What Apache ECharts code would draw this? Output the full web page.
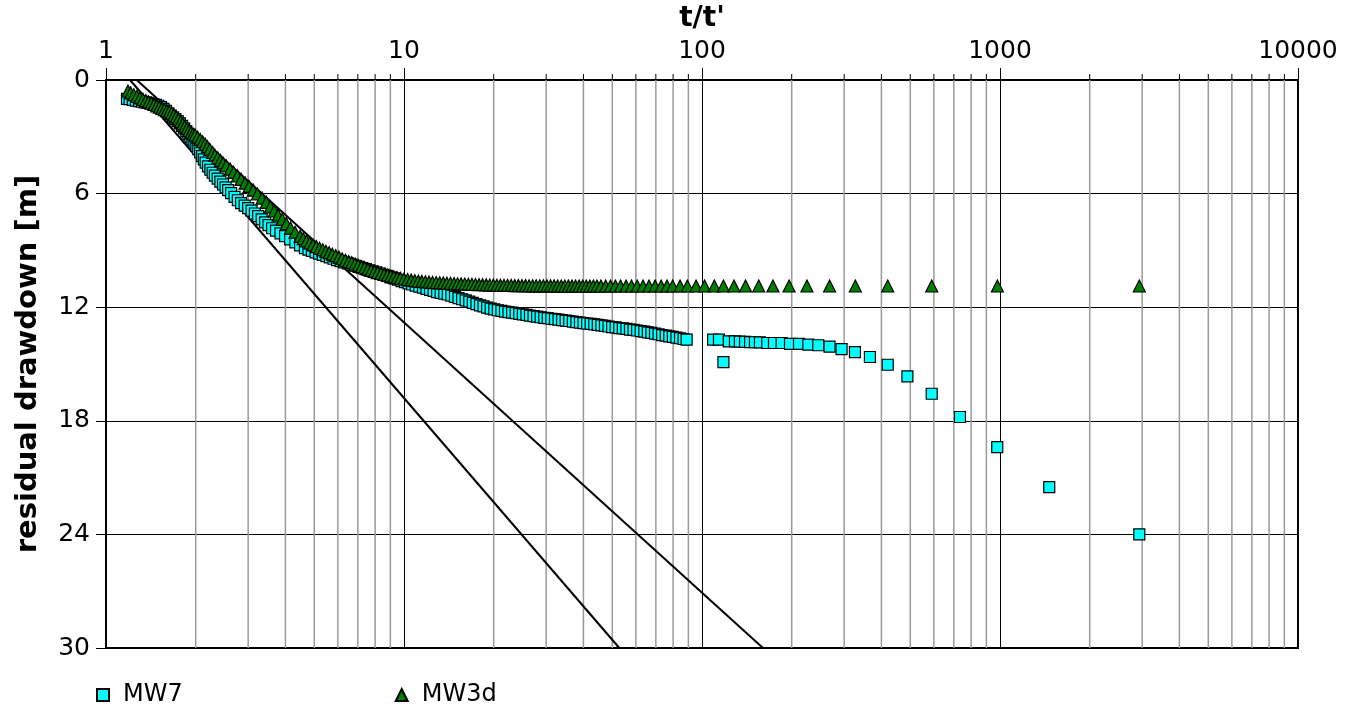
<!DOCTYPE html>
<html>
<head>
<meta charset="utf-8">
<title>Residual drawdown</title>
<script src="https://cdn.jsdelivr.net/npm/echarts@6/dist/echarts.min.js"></script>
<style>
  html, body { margin: 0; padding: 0; background: #fff; }
  #chart { width: 1358px; height: 709px; }
</style>
</head>
<body>
<div id="chart"></div>
<script>
// [t/t', residual drawdown m]
var mw7 = [
  [1.176,1.00],[1.20,1.01],[1.23,1.05],[1.26,1.09],[1.29,1.12],[1.32,1.15],[1.35,1.18],[1.38,1.21],
  [1.41,1.24],[1.44,1.27],[1.47,1.31],[1.50,1.36],[1.53,1.43],[1.56,1.52],[1.59,1.63],[1.62,1.76],
  [1.65,1.88],[1.68,1.97],[1.71,2.06],[1.74,2.17],[1.77,2.29],[1.80,2.42],[1.83,2.56],[1.86,2.71],
  [1.89,2.86],[1.92,3.01],[1.95,3.15],[1.98,3.31],[2.01,3.48],[2.04,3.65],[2.07,3.83],[2.10,4.02],
  [2.13,4.19],[2.16,4.36],[2.20,4.56],[2.24,4.74],[2.28,4.90],[2.32,5.05],[2.37,5.21],[2.42,5.37],
  [2.47,5.52],[2.52,5.67],[2.57,5.82],[2.63,5.98],[2.70,6.17],[2.77,6.35],[2.84,6.50],[2.92,6.64],
  [3.00,6.77],[3.08,6.90],[3.16,7.05],[3.24,7.19],[3.33,7.36],[3.42,7.52],[3.51,7.67],[3.61,7.83],
  [3.72,7.96],[3.85,8.10],[3.99,8.25],[4.15,8.42],[4.32,8.58],[4.48,8.73],[4.65,8.88],[4.78,8.96],
  [4.91,9.03],[5.05,9.10],[5.19,9.17],[5.34,9.24],[5.49,9.30],[5.64,9.37],[5.80,9.44],[5.96,9.51],
  [6.13,9.57],[6.30,9.63],[6.48,9.69],[6.66,9.75],[6.85,9.81],[7.04,9.87],[7.24,9.93],[7.44,9.99],
  [7.65,10.05],[7.86,10.11],[8.08,10.16],[8.31,10.22],[8.54,10.29],[8.78,10.35],[9.03,10.42],[9.28,10.48],
  [9.54,10.55],[9.81,10.62],[10.08,10.68],[10.36,10.74],[10.65,10.80],[10.95,10.86],[11.26,10.91],[11.58,10.97],
  [11.90,11.03],[12.23,11.09],[12.57,11.14],[12.92,11.20],[13.28,11.24],[13.65,11.28],[14.03,11.33],[14.42,11.39],
  [14.83,11.45],[15.24,11.52],[15.67,11.58],[16.11,11.64],[16.56,11.71],[17.02,11.77],[17.50,11.84],[17.99,11.90],
  [18.49,11.96],[19.01,12.02],[19.54,12.07],[20.09,12.12],[20.65,12.16],[21.23,12.19],[21.82,12.23],[22.43,12.26],
  [23.06,12.29],[23.70,12.32],[24.37,12.35],[25.05,12.38],[25.75,12.41],[26.47,12.44],[27.21,12.47],[27.97,12.50],
  [28.75,12.53],[29.56,12.56],[30.38,12.58],[31.23,12.61],[32.11,12.63],[33.01,12.66],[33.93,12.68],[34.88,12.71],
  [35.85,12.73],[36.86,12.76],[37.89,12.79],[38.95,12.81],[40.04,12.84],[41.16,12.86],[42.31,12.88],[43.49,12.91],
  [44.71,12.93],[45.96,12.96],[47.25,12.99],[48.57,13.02],[49.93,13.05],[51.33,13.07],[52.77,13.10],[54.24,13.12],
  [55.76,13.15],[57.32,13.18],[58.93,13.20],[60.58,13.23],[62.28,13.26],[64.02,13.29],[65.81,13.33],[67.66,13.36],
  [69.55,13.40],[71.50,13.43],[73.50,13.47],[75.56,13.50],[77.67,13.54],[79.85,13.57],[82.08,13.61],[84.38,13.64],
  [86.74,13.68],[88.80,13.71],
  [109,13.71],[114,13.71],[118,14.90],[123,13.80],[129,13.81],[134,13.82],[139.5,13.83],[145,13.84],
  [150.6,13.85],[156.5,13.86],[165.6,13.89],[174.4,13.89],[185,13.89],[197.4,13.94],[211.6,13.94],[227.4,13.98],
  [245.6,14.01],[268,14.08],[294,14.21],[326,14.37],[366,14.63],[420,15.04],[489,15.65],[590,16.57],
  [734,17.80],[979,19.39],[1463,21.50],[2934,24.00]
];

var mw3d = [
  [1.185,0.58],[1.21,0.68],[1.24,0.78],[1.27,0.86],[1.30,0.94],[1.33,1.02],[1.36,1.09],[1.39,1.16],
  [1.42,1.22],[1.45,1.29],[1.48,1.37],[1.51,1.44],[1.54,1.50],[1.57,1.56],[1.60,1.62],[1.63,1.68],
  [1.66,1.76],[1.69,1.85],[1.72,1.95],[1.75,2.07],[1.78,2.20],[1.81,2.32],[1.84,2.44],[1.87,2.56],
  [1.90,2.67],[1.93,2.77],[1.96,2.85],[1.99,2.91],[2.03,3.02],[2.07,3.14],[2.11,3.26],[2.15,3.38],
  [2.19,3.52],[2.23,3.66],[2.28,3.83],[2.32,3.97],[2.37,4.11],[2.42,4.25],[2.47,4.38],[2.53,4.53],
  [2.61,4.71],[2.68,4.88],[2.76,5.06],[2.84,5.25],[2.93,5.45],[3.02,5.62],[3.12,5.82],[3.22,6.02],
  [3.34,6.24],[3.45,6.46],[3.56,6.70],[3.67,6.92],[3.78,7.14],[3.90,7.36],[4.03,7.59],[4.16,7.82],
  [4.31,8.04],[4.48,8.26],[4.59,8.38],[4.71,8.50],[4.83,8.61],[4.95,8.71],[5.08,8.80],[5.21,8.89],
  [5.34,8.97],[5.47,9.05],[5.61,9.12],[5.75,9.20],[5.90,9.28],[6.05,9.36],[6.20,9.44],[6.36,9.52],
  [6.52,9.59],[6.68,9.65],[6.85,9.72],[7.02,9.79],[7.20,9.86],[7.38,9.92],[7.57,9.99],[7.76,10.05],
  [7.96,10.11],[8.16,10.17],[8.37,10.22],[8.58,10.27],[8.80,10.31],[9.02,10.36],[9.25,10.40],[9.48,10.44],
  [9.72,10.47],[10.00,10.51],[10.28,10.54],[10.57,10.57],[10.87,10.60],[11.17,10.62],[11.48,10.64],[11.80,10.66],
  [12.13,10.67],[12.47,10.69],[12.82,10.70],[13.18,10.71],[13.55,10.72],[13.93,10.73],[14.32,10.74],[14.72,10.75],
  [15.13,10.76],[15.55,10.77],[15.99,10.78],[16.44,10.79],[16.90,10.79],[17.37,10.80],[17.86,10.81],[18.36,10.81],
  [18.87,10.82],[19.40,10.83],[19.94,10.83],[20.50,10.84],[21.07,10.84],[21.66,10.85],[22.27,10.85],[22.89,10.85],
  [23.53,10.86],[24.19,10.86],[24.87,10.86],[25.57,10.86],[26.28,10.87],[27.02,10.87],[27.77,10.87],[28.55,10.87],
  [29.35,10.87],[30.17,10.87],[31.02,10.87],[31.89,10.87],[32.78,10.88],[33.70,10.88],[34.64,10.88],[35.61,10.88],
  [36.61,10.88],[37.63,10.88],[38.69,10.88],[39.77,10.88],[40.88,10.88],[42.03,10.88],[43.21,10.88],[44.42,10.88],
  [45.80,10.88],[47.50,10.88],[49.30,10.88],[51.20,10.88],[53.30,10.88],[55.60,10.88],[58.00,10.88],[60.60,10.88],
  [63.40,10.88],[66.40,10.88],[69.60,10.88],[72.90,10.88],[76.30,10.88],[79.70,10.88],
  [84.4,10.88],[89.3,10.88],[95.5,10.88],[102,10.88],[110,10.88],[118,10.88],[128,10.88],[140,10.88],
  [155,10.88],[173,10.88],[196,10.88],[225,10.88],[268,10.88],[327,10.88],[420,10.88],[590,10.88],
  [980,10.88],[2934,10.88]
];

// straight-line fits, ends at the top and bottom of the plot
var fitLine1 = [[1.204, 0], [52.8, 30]];
var fitLine2 = [[1.268, 0], [160.2, 30]];

// minor log grid values
var minorTicks = [2,3,4,5,6,7,8,9, 20,30,40,50,60,70,80,90,
  200,300,400,500,600,700,800,900, 2000,3000,4000,5000,6000,7000,8000,9000];

var font = 'DejaVu Sans';
var chart = echarts.init(document.getElementById('chart'));

var option = {
  backgroundColor: '#fff',
  animation: false,
  grid: {
    left: 106, right: 60, top: 80, bottom: 61,
    containLabel: false, outerBoundsMode: 'none',
    show: true, borderColor: '#000', borderWidth: 2, backgroundColor: 'transparent'
  },
  legend: {
    left: 91, top: 678,
    itemWidth: 12, itemHeight: 12, itemGap: 212,
    textStyle: { fontSize: 24, color: '#000', fontFamily: font, padding: [0, 0, 0, 9] },
    data: [
      { name: 'MW7', icon: 'rect' },
      { name: 'MW3d', icon: 'triangle' }
    ]
  },
  xAxis: {
    type: 'log', logBase: 10, min: 1, max: 10000, position: 'top',
    name: "t/t'", nameLocation: 'middle', nameGap: 47,
    nameTextStyle: { fontSize: 28, fontWeight: 'bold', color: '#000', fontFamily: font },
    axisLine: { show: true, lineStyle: { color: '#000', width: 2 } },
    axisTick: { show: true, length: 12, lineStyle: { color: '#000' } },
    axisLabel: {
      fontSize: 25, color: '#000', margin: 16, fontFamily: font,
      formatter: function (v) { return String(Math.round(v)); }
    },
    splitLine: { show: true, lineStyle: { color: '#000', width: 1 } }
  },
  yAxis: {
    type: 'value', inverse: true, min: 0, max: 30, interval: 6,
    name: 'residual drawdown [m]', nameLocation: 'middle', nameGap: 63, nameRotate: 90,
    nameTextStyle: { fontSize: 29, fontWeight: 'bold', color: '#000', fontFamily: font },
    axisLine: { show: true, lineStyle: { color: '#000', width: 2 } },
    axisTick: { show: true, length: 10, lineStyle: { color: '#000' } },
    axisLabel: { fontSize: 25, color: '#000', margin: 16, fontFamily: font },
    splitLine: { show: true, lineStyle: { color: '#000', width: 1 } }
  },
  series: [
    {
      // minor gridlines + small ticks above the top axis
      type: 'custom',
      silent: true,
      z: 1,
      data: minorTicks.map(function (v) { return [v, 0]; }),
      renderItem: function (params, api) {
        var v = api.value(0);
        var top = api.coord([v, 0]);
        var bot = api.coord([v, 30]);
        return {
          type: 'group',
          children: [
            { type: 'line', shape: { x1: top[0], y1: top[1], x2: bot[0], y2: bot[1] },
              style: { stroke: '#9a9a9a', lineWidth: 1.5 } },
            { type: 'line', shape: { x1: top[0], y1: top[1] - 6, x2: top[0], y2: top[1] },
              style: { stroke: '#000', lineWidth: 1 } }
          ]
        };
      }
    },
    {
      type: 'line', data: fitLine1, symbol: 'none', silent: true, z: 2,
      lineStyle: { color: '#000', width: 2 }
    },
    {
      type: 'line', data: fitLine2, symbol: 'none', silent: true, z: 2,
      lineStyle: { color: '#000', width: 2 }
    },
    {
      name: 'MW7', type: 'scatter', data: mw7, symbol: 'rect', symbolSize: 11, z: 3,
      itemStyle: { color: '#00ffff', borderColor: '#000', borderWidth: 1.2, opacity: 1 }
    },
    {
      name: 'MW3d', type: 'scatter', data: mw3d, symbol: 'triangle', symbolSize: 12, z: 4,
      itemStyle: { color: '#008000', borderColor: '#000', borderWidth: 1.2, opacity: 1 }
    }
  ]
};

chart.setOption(option);
</script>
</body>
</html>
